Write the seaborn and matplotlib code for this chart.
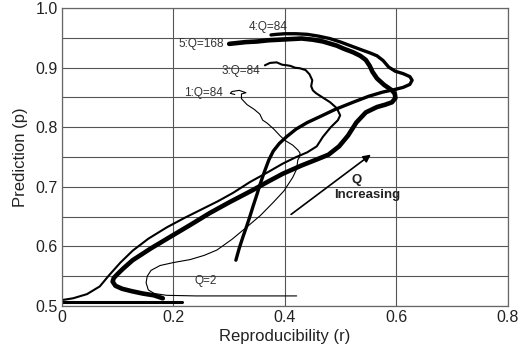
import matplotlib
matplotlib.use("Agg")
import matplotlib.pyplot as plt
import seaborn as sns
import pandas as pd

# ---- data ----
# curve 1 (thin), Q = 2 .. 84
r1 = [0.421, 0.35, 0.296, 0.24, 0.188, 0.166, 0.155, 0.151, 0.153, 0.160, 0.176, 0.20, 0.23, 0.255,
      0.278, 0.305, 0.332, 0.356, 0.378, 0.398, 0.414, 0.421, 0.423, 0.426, 0.427, 0.423, 0.414, 0.40,
      0.391, 0.38, 0.368, 0.36, 0.355, 0.345, 0.332, 0.322, 0.322, 0.33, 0.318, 0.305, 0.302, 0.31]
p1 = [0.517, 0.517, 0.517, 0.517, 0.518, 0.521, 0.527, 0.539, 0.55, 0.56, 0.568, 0.573, 0.578, 0.585,
      0.594, 0.612, 0.633, 0.652, 0.673, 0.693, 0.716, 0.73, 0.745, 0.75, 0.757, 0.762, 0.77, 0.778,
      0.786, 0.797, 0.807, 0.812, 0.822, 0.83, 0.838, 0.848, 0.856, 0.858, 0.862, 0.86, 0.857, 0.855]

# curve 2 (flat at the bottom)
r2 = [0.0, 0.215]
p2 = [0.506, 0.506]

# curve 3 (medium), Q = 2 .. 84
r3 = [0.0, 0.02, 0.045, 0.068, 0.084, 0.105, 0.127, 0.155, 0.188, 0.22, 0.25, 0.28, 0.307, 0.337,
      0.37, 0.396, 0.42, 0.44, 0.457, 0.468, 0.482, 0.495, 0.499, 0.493, 0.481, 0.466, 0.456, 0.45,
      0.447, 0.449, 0.444, 0.437, 0.427, 0.418, 0.41, 0.404, 0.395, 0.385, 0.373, 0.364]
p3 = [0.51, 0.513, 0.52, 0.533, 0.551, 0.573, 0.593, 0.613, 0.632, 0.648, 0.662, 0.676, 0.69, 0.708,
      0.725, 0.739, 0.75, 0.758, 0.768, 0.784, 0.8, 0.812, 0.82, 0.832, 0.842, 0.851, 0.857, 0.862,
      0.869, 0.879, 0.889, 0.896, 0.899, 0.9, 0.903, 0.904, 0.905, 0.909, 0.908, 0.904]

# curve 4 (medium-thick), Q = 2 .. 84
r4 = [0.312, 0.318, 0.325, 0.331, 0.337, 0.343, 0.35, 0.356, 0.363, 0.371, 0.379, 0.39, 0.404, 0.42,
      0.44, 0.463, 0.49, 0.522, 0.55, 0.575, 0.595, 0.612, 0.624, 0.628, 0.624, 0.612, 0.598, 0.586,
      0.576, 0.565, 0.552, 0.54, 0.52, 0.5, 0.48, 0.46, 0.44, 0.42, 0.40, 0.385, 0.375]
p4 = [0.577, 0.597, 0.617, 0.633, 0.65, 0.668, 0.688, 0.706, 0.725, 0.745, 0.76, 0.773, 0.785, 0.797,
      0.808, 0.818, 0.83, 0.842, 0.852, 0.859, 0.863, 0.867, 0.872, 0.879, 0.885, 0.89, 0.894, 0.901,
      0.912, 0.92, 0.925, 0.929, 0.936, 0.943, 0.949, 0.953, 0.956, 0.957, 0.957, 0.956, 0.955]

# curve 5 (thick), Q = 2 .. 168
r5 = [0.181, 0.165, 0.145, 0.125, 0.108, 0.096, 0.091, 0.093, 0.099, 0.11, 0.127, 0.16, 0.194, 0.23,
      0.265, 0.30, 0.343, 0.37, 0.396, 0.43, 0.457, 0.478, 0.497, 0.513, 0.528, 0.545, 0.565, 0.58, 0.592,
      0.598, 0.597, 0.592, 0.578, 0.565, 0.557, 0.552, 0.545, 0.535, 0.522, 0.505, 0.493, 0.468, 0.45,
      0.43, 0.41, 0.39, 0.37, 0.35, 0.33, 0.31, 0.30]
p5 = [0.513, 0.518, 0.521, 0.525, 0.529, 0.534, 0.541, 0.547, 0.553, 0.563, 0.577, 0.597, 0.616, 0.636,
      0.656, 0.674, 0.695, 0.709, 0.722, 0.736, 0.746, 0.754, 0.768, 0.786, 0.808, 0.825, 0.834, 0.838,
      0.842, 0.849, 0.856, 0.862, 0.871, 0.882, 0.893, 0.903, 0.913, 0.92, 0.926, 0.932, 0.937, 0.944,
      0.947, 0.949, 0.948, 0.947, 0.946, 0.944, 0.943, 0.941, 0.94]

curve_labels = ["1:Q=84", "3:Q=84", "4:Q=84", "5:Q=168", "Q=2"]
x_ticks = [0, 0.2, 0.4, 0.6, 0.8]
x_tick_labels = ["0", "0.2", "0.4", "0.6", "0.8"]
y_ticks = [0.5, 0.6, 0.7, 0.8, 0.9, 1.0]
y_tick_labels = ["0.5", "0.6", "0.7", "0.8", "0.9", "1.0"]

# ---- figure ----
sns.set_style("white")
plt.rcParams["font.family"] = ["Liberation Sans", "DejaVu Sans"]

fig = plt.figure(figsize=(5.2, 3.53), dpi=100)
ax = fig.add_axes([0.119, 0.133, 0.858, 0.844])

curves = [(r2, p2, 2.2), (r1, p1, 0.8), (r3, p3, 1.5), (r4, p4, 2.4), (r5, p5, 3.3)]
for r, p, lw in curves:
    df = pd.DataFrame({"r": r, "p": p})
    sns.lineplot(data=df, x="r", y="p", sort=False, estimator=None, ax=ax,
                 color="black", linewidth=lw, solid_capstyle="round", solid_joinstyle="round")

ax.set_xlim(0, 0.8)
ax.set_ylim(0.5, 1.0)
ax.set_xticks(x_ticks)
ax.set_xticklabels(x_tick_labels)
ax.set_yticks(y_ticks)
ax.set_yticklabels(y_tick_labels)
ax.set_yticks([0.55, 0.65, 0.75, 0.85, 0.95], minor=True)
ax.tick_params(axis="both", which="both", length=0, labelsize=11.5, colors="#222222", pad=3)
ax.grid(True, which="both", color="#555555", linewidth=0.8)
ax.set_axisbelow(True)
for s in ax.spines.values():
    s.set_color("#666666")
    s.set_linewidth(0.9)

ax.set_xlabel("Reproducibility (r)", fontsize=12, color="#222222", labelpad=3)
ax.set_ylabel("Prediction (p)", fontsize=12, color="#222222", labelpad=5)

lab_kw = dict(fontsize=8.5, color="#333333", va="center")
ax.text(0.289, 0.857, curve_labels[0], ha="right", **lab_kw)
ax.text(0.355, 0.894, curve_labels[1], ha="right", **lab_kw)
ax.text(0.405, 0.968, curve_labels[2], ha="right", **lab_kw)
ax.text(0.290, 0.940, curve_labels[3], ha="right", **lab_kw)
ax.text(0.258, 0.542, curve_labels[4], ha="center", **lab_kw)

ax.annotate("", xy=(0.558, 0.757), xytext=(0.407, 0.651),
            arrowprops=dict(arrowstyle="-|>", color="black", lw=1.2, mutation_scale=11))
ax.text(0.529, 0.711, "Q", fontsize=9.5, fontweight="bold", ha="center", va="center", color="#222222")
ax.text(0.547, 0.686, "Increasing", fontsize=9.5, fontweight="bold", ha="center", va="center", color="#222222")

fig.savefig("out.png", dpi=100)
